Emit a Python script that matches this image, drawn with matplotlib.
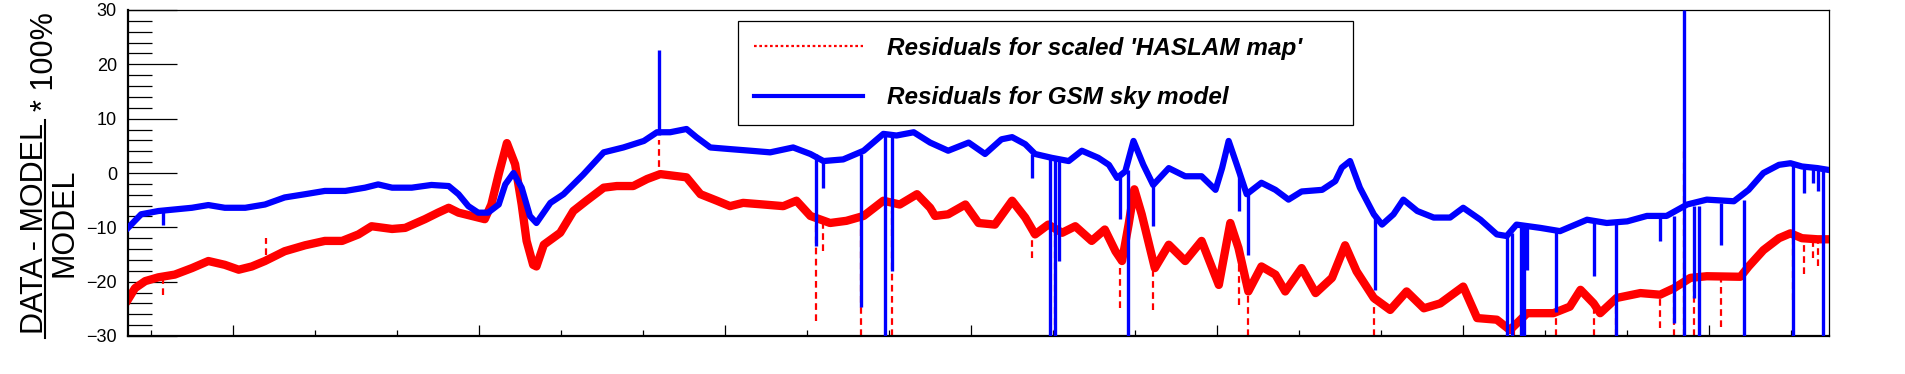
import numpy as np
import matplotlib
matplotlib.use("Agg")
import matplotlib.pyplot as plt
from matplotlib.lines import Line2D
from matplotlib.ticker import FixedLocator, MultipleLocator

plt.rcParams['font.family'] = ['Liberation Sans', 'DejaVu Sans']

# residuals for scaled HASLAM map (x in hours, y in %)
haslam_x = [0.0, 0.085, 0.21, 0.37, 0.57, 0.78, 0.98, 1.18, 1.35, 1.51, 1.67, 1.91, 2.16, 2.40,
            2.61, 2.81, 2.97, 3.22, 3.38, 3.62, 3.78, 3.91, 4.03, 4.19, 4.35, 4.43, 4.52, 4.62,
            4.72, 4.80, 4.86, 4.94, 4.98, 5.07, 5.27, 5.43, 5.59, 5.80, 5.96, 6.16, 6.33, 6.49,
            6.65, 6.81, 6.98, 7.18, 7.34, 7.50, 7.75, 7.99, 8.15, 8.32, 8.56, 8.76, 8.97, 9.21,
            9.41, 9.62, 9.78, 9.84, 10.0, 10.21, 10.37, 10.57, 10.78, 10.94, 11.06, 11.22, 11.39,
            11.55, 11.75, 11.91, 12.04, 12.12, 12.20, 12.27, 12.36, 12.52, 12.69, 12.89, 13.09,
            13.30, 13.44, 13.54, 13.66, 13.82, 13.99, 14.11, 14.31, 14.48, 14.68, 14.84, 14.98,
            15.19, 15.39, 15.59, 15.80, 16.00, 16.28, 16.45, 16.69, 16.85, 17.06, 17.38, 17.58,
            17.71, 17.87, 17.95, 18.15, 18.44, 18.68, 18.85, 19.05, 19.25, 19.66, 19.76, 19.94,
            20.13, 20.27, 20.41, 20.60, 20.72]
haslam_y = [-23.3, -21.2, -19.9, -19.2, -18.7, -17.5, -16.2, -16.9, -17.8, -17.2, -16.2, -14.4,
            -13.3, -12.5, -12.5, -11.3, -9.8, -10.3, -10.1, -8.5, -7.3, -6.4, -7.3, -7.9, -8.5,
            -5.8, -0.2, 5.5, 1.6, -5.8, -12.5, -16.9, -17.2, -13.2, -11.0, -7.0, -5.1, -2.7,
            -2.4, -2.4, -1.1, -0.2, -0.5, -0.8, -3.9, -5.1, -6.1, -5.5, -5.8, -6.1, -5.1, -7.9,
            -9.2, -8.8, -7.9, -5.1, -5.8, -3.9, -6.4, -7.9, -7.6, -5.8, -9.2, -9.5, -5.1, -8.2,
            -11.3, -9.5, -11.0, -9.8, -12.5, -10.4, -14.4, -16.2, -9.5, -3.0, -7.6, -17.5,
            -13.2, -16.2, -12.5, -20.6, -9.2, -13.8, -21.8, -17.2, -18.7, -21.8, -17.5, -22.1,
            -19.3, -13.3, -18.1, -23.0, -25.2, -21.8, -24.9, -24.0, -20.9, -26.7, -27.0, -28.9,
            -25.8, -25.8, -24.6, -21.5, -24.0, -25.8, -23.0, -22.1, -22.4, -21.2, -19.3, -19.0,
            -19.1, -17.2, -14.2, -12.0, -11.1, -12.0, -12.2, -12.2]

# residuals for GSM sky model
gsm_x = [0.0, 0.16, 0.37, 0.78, 0.98, 1.18, 1.43, 1.67, 1.91, 2.16, 2.40, 2.65, 2.89, 3.05,
         3.22, 3.46, 3.70, 3.91, 4.03, 4.15, 4.27, 4.39, 4.52, 4.60, 4.70, 4.80, 4.90, 4.98,
         5.15, 5.31, 5.55, 5.80, 6.04, 6.29, 6.45, 6.61, 6.81, 6.93, 7.10, 7.34, 7.59, 7.83,
         8.11, 8.32, 8.48, 8.72, 8.97, 9.21, 9.37, 9.58, 9.78, 10.0, 10.25, 10.45, 10.65,
         10.78, 10.94, 11.06, 11.26, 11.47, 11.63, 11.83, 11.96, 12.06, 12.16, 12.26, 12.38,
         12.50, 12.69, 12.89, 13.09, 13.26, 13.34, 13.42, 13.52, 13.64, 13.82, 13.99, 14.15,
         14.31, 14.56, 14.72, 14.80, 14.90, 15.02, 15.19, 15.29, 15.43, 15.55, 15.72, 15.92,
         16.12, 16.28, 16.49, 16.69, 16.81, 16.93, 17.22, 17.46, 17.79, 18.03, 18.28, 18.52,
         18.76, 19.01, 19.25, 19.58, 19.76, 19.94, 20.13, 20.27, 20.41, 20.60, 20.72]
gsm_y = [-10.1, -7.6, -7.0, -6.4, -5.9, -6.4, -6.4, -5.8, -4.5, -3.9, -3.3, -3.3, -2.7, -2.1,
         -2.7, -2.7, -2.2, -2.4, -3.9, -6.1, -7.3, -7.3, -5.8, -2.1, 0.0, -2.7, -7.9, -9.2,
         -5.5, -3.9, -0.3, 3.8, 4.7, 5.9, 7.5, 7.5, 8.1, 6.6, 4.7, 4.4, 4.1, 3.8, 4.7, 3.5,
         2.2, 2.5, 4.1, 7.2, 6.9, 7.5, 5.6, 4.1, 5.6, 3.5, 6.2, 6.6, 5.3, 3.5, 2.8, 2.2, 4.1,
         2.8, 1.5, -0.9, 0.3, 5.9, 1.5, -2.2, 0.9, -0.6, -0.6, -3.1, 0.9, 5.9, 1.5, -3.9,
         -1.8, -3.1, -4.9, -3.4, -3.1, -1.5, 1.0, 2.2, -2.7, -7.6, -9.5, -7.6, -4.9, -7.0,
         -8.2, -8.2, -6.4, -8.6, -11.3, -11.6, -9.5, -10.1, -10.7, -8.6, -9.2, -8.9, -7.9,
         -7.9, -5.8, -4.9, -5.2, -3.1, 0.0, 1.5, 1.8, 1.2, 0.9, 0.6]

# isolated outliers: position, lower end, upper end
gsm_spike_x = [0.43, 6.47, 8.39, 8.48, 8.94, 9.23, 9.32, 11.02, 11.24, 11.30, 11.35, 12.10,
               12.19, 12.50, 13.55, 13.65, 15.20, 16.81, 16.87, 16.98, 17.02, 17.06, 17.41,
               17.87, 18.14, 18.68, 18.85, 18.97, 19.09, 19.16, 19.42, 19.70, 20.30, 20.43,
               20.54, 20.60, 20.67]
gsm_spike_lo = [-9.5, 7.0, -13.5, -2.7, -24.6, -30, -18.1, -0.9, -30, -30, -16.2, -8.5,
                -30, -9.8, -7.0, -15.0, -21.5, -30, -30, -30, -30, -17.8, -25.5,
                -19.0, -30, -12.5, -27.6, -30, -23.0, -30, -13.2, -30, -30, -3.7,
                -1.9, -3.4, -30]
gsm_spike_hi = [-7.0, 22.6, 3.5, 2.5, 3.5, 7.0, 7.0, 3.5, 3.0, 3.0, 3.0, -0.5,
                0.5, -2.0, 1.0, -3.5, -7.5, -11.5, -11.0, -10.0, -10.0, -10.0, -10.5,
                -9.0, -9.0, -8.0, -8.0, 30, -6.0, -6.0, -5.5, -5.0, 1.5, 1.2,
                1.0, 1.0, 0.8]

haslam_spike_x = [0.43, 1.68, 6.47, 8.39, 8.48, 8.94, 9.32, 11.02, 11.30, 12.10, 12.50, 13.55,
                  13.65, 15.19, 16.90, 17.41, 17.87, 18.14, 18.68, 18.85, 18.97, 19.09, 19.42,
                  20.30, 20.43, 20.54, 20.60]
haslam_spike_lo = [-22.4, -15.0, -1.0, -27.3, -14.4, -30, -30, -15.6, -30, -24.9, -25.2, -24.3,
                   -30, -30, -30, -30, -30, -30, -28.6, -30, -30, -30, -28.3,
                   -23.4, -18.5, -15.7, -17.2]
haslam_spike_hi = [-19.0, -12.0, 6.0, -7.9, -8.5, -8.0, -7.0, -11.0, -9.5, -15.0, -17.0, -13.5,
                   -21.0, -23.0, -28.0, -25.8, -24.0, -23.0, -22.4, -21.0, 4.0, -19.5, -19.2,
                   -12.0, -12.0, -12.2, -12.2]

y_ticks = [30, 20, 10, 0, -10, -20, -30]
x_min, x_max = 0.0, 20.74
x_minor = [0.28 + k for k in range(21)]
x_major = [1.28 + 3 * k for k in range(7)]

W, H = 1906, 374
fig = plt.figure(figsize=(W / 100, H / 100), dpi=100)
ax = fig.add_axes([128 / W, 38 / H, 1701 / W, 326 / H])

red = '#ff0000'
blue = '#0000ff'

ax.vlines(haslam_spike_x, haslam_spike_lo, haslam_spike_hi, colors=red, linewidth=1.6,
          linestyles=(0, (3, 2)), zorder=2)
ax.plot(haslam_x, haslam_y, color=red, linewidth=6, solid_joinstyle='round', zorder=2)
ax.plot(gsm_x, gsm_y, color=blue, linewidth=4.5, solid_joinstyle='round', zorder=3)
ax.vlines(gsm_spike_x, gsm_spike_lo, gsm_spike_hi, colors=blue, linewidth=2.4, zorder=3)

ax.set_xlim(x_min, x_max)
ax.set_ylim(-30, 30)

ax.xaxis.set_major_locator(FixedLocator(x_major))
ax.xaxis.set_minor_locator(FixedLocator(x_minor))
ax.yaxis.set_major_locator(FixedLocator(y_ticks))
ax.yaxis.set_minor_locator(MultipleLocator(2))
ax.set_xticklabels([])
ax.set_yticklabels([str(v).replace('-', '\u2212') for v in y_ticks])

ax.tick_params(axis='y', which='major', direction='in', length=35, width=0.9, pad=8,
               labelsize=13, right=False)
ax.tick_params(axis='y', which='minor', direction='in', length=17, width=0.9, right=False)
ax.tick_params(axis='x', which='major', direction='in', length=8, width=0.9, top=False)
ax.tick_params(axis='x', which='minor', direction='in', length=4.3, width=0.9, top=False)

for side in ['left', 'bottom']:
    ax.spines[side].set_linewidth(1.6)
for side in ['top', 'right']:
    ax.spines[side].set_linewidth(0.9)

handles = [Line2D([], [], color=red, linewidth=1.6, linestyle=(0, (1.2, 1.2))),
           Line2D([], [], color=blue, linewidth=3)]
labels = ["Residuals for scaled 'HASLAM map'", "Residuals for GSM sky model"]
leg = fig.legend(handles, labels, loc='upper left',
                 bbox_to_anchor=(738 / W, 1 - 21 / H - 0.01, 615 / W, 0.01),
                 mode='expand', prop={'weight': 'bold', 'style': 'italic', 'size': 17.5},
                 fancybox=False, framealpha=1, edgecolor='black', handlelength=4.5,
                 handletextpad=1.0, borderpad=0.65, labelspacing=1.08, borderaxespad=0)
leg.get_frame().set_linewidth(0.9)

# y title: (DATA - MODEL) / MODEL * 100%, drawn as a rotated fraction
label_kw = dict(rotation=90, rotation_mode='anchor', ha='center', va='baseline', fontsize=22)
fig.text(43 / W, 1 - 228 / H, 'DATA - MODEL', **label_kw)
fig.text(73 / W, 1 - 223 / H, 'MODEL', **label_kw)
fig.text(53 / W, 1 - 62 / H, '* 100%', **label_kw)
fig.add_artist(Line2D([45 / W, 45 / W], [1 - 338 / H, 1 - 120 / H], color='black',
                      linewidth=1.5, transform=fig.transFigure))

fig.savefig('out.png', dpi=100)
